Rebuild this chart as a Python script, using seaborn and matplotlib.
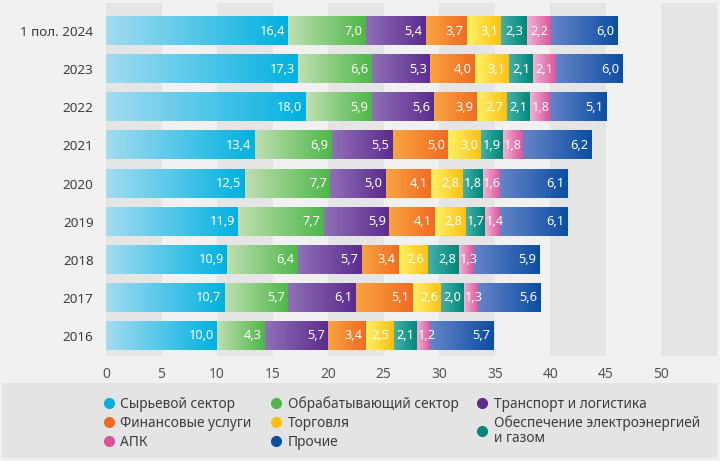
import numpy as np
import pandas as pd
import matplotlib
matplotlib.use("Agg")
import matplotlib.pyplot as plt
from matplotlib.colors import to_rgb
from matplotlib.lines import Line2D
from matplotlib.patches import Rectangle
import seaborn as sns

# ---------------- data ----------------
years = ["1 пол. 2024", "2023", "2022", "2021", "2020", "2019", "2018", "2017", "2016"]
sectors = ["Сырьевой сектор", "Обрабатывающий сектор", "Транспорт и логистика",
           "Финансовые услуги", "Торговля", "Обеспечение электроэнергией\nи газом",
           "АПК", "Прочие"]
raw = [16.4, 17.3, 18.0, 13.4, 12.5, 11.9, 10.9, 10.7, 10.0]
manuf = [7.0, 6.6, 5.9, 6.9, 7.7, 7.7, 6.4, 5.7, 4.3]
transport = [5.4, 5.3, 5.6, 5.5, 5.0, 5.9, 5.7, 6.1, 5.7]
finance = [3.7, 4.0, 3.9, 5.0, 4.1, 4.1, 3.4, 5.1, 3.4]
trade = [3.1, 3.1, 2.7, 3.0, 2.8, 2.8, 2.6, 2.6, 2.5]
energy = [2.3, 2.1, 2.1, 1.9, 1.8, 1.7, 2.8, 2.0, 2.1]
agro = [2.2, 2.1, 1.8, 1.8, 1.6, 1.4, 1.3, 1.3, 1.2]
other = [6.0, 6.0, 5.1, 6.2, 6.1, 6.1, 5.9, 5.6, 5.7]
series = [raw, manuf, transport, finance, trade, energy, agro, other]
xticks = [0, 5, 10, 15, 20, 25, 30, 35, 40, 45, 50]

# gradient colours (light -> dark) per sector
grad = [("#a3dcf1", "#00b1e0"), ("#bfdfb2", "#4eb748"), ("#8f70b7", "#5b2b8d"),
        ("#f9a441", "#f06b22"), ("#fff266", "#fdbf10"), ("#45b1a8", "#00867a"),
        ("#f2b3d3", "#d9539b"), ("#6584c8", "#0b4ea2")]

# ---------------- style ----------------
sns.set_theme(style="white")
plt.rcParams["font.family"] = ["Noto Sans", "DejaVu Sans"]
BG = "#f1f1f1"
BAND = "#e5e5e5"
TXT = "#3d3d3d"

fig = plt.figure(figsize=(7.2, 4.61), dpi=100, facecolor=BG)
ax = fig.add_axes([106 / 720, 1 - 356 / 461, (717 - 106) / 720, (356 - 3) / 461])
ax.set_facecolor(BG)

# legend background box
fig.patches.append(Rectangle((2 / 720, 1 - 458 / 461), 715 / 720, 75 / 461,
                             transform=fig.transFigure, facecolor="#e4e4e4",
                             edgecolor="none", zorder=0))

# vertical bands
for s in range(0, 55, 10):
    ax.axvspan(s, s + 5, color=BAND, zorder=0, lw=0)

cum = np.zeros(len(years))
starts, ends = [], []
for vals in series:
    starts.append(cum.copy())
    cum = cum + np.array(vals)
    ends.append(cum.copy())

# draw stacked bars (largest cumulative first so each covers the previous)
BAR_H = 0.74
for k in range(len(series) - 1, -1, -1):
    d = pd.DataFrame({"year": years, "val": ends[k]})
    sns.barplot(data=d, x="val", y="year", order=years, color=grad[k][1],
                width=BAR_H, ax=ax, saturation=1, edgecolor="none", zorder=2)

# gradient overlays, in data coordinates
for k in range(len(series)):
    c0 = np.array(to_rgb(grad[k][0]))
    c1 = np.array(to_rgb(grad[k][1]))
    t = np.linspace(0, 1, 128)[None, :, None]
    img = c0 + (c1 - c0) * t
    for i in range(len(years)):
        v = series[k][i]
        ax.imshow(img, extent=[starts[k][i], ends[k][i], i + BAR_H / 2, i - BAR_H / 2],
                  aspect="auto", interpolation="bilinear", zorder=3, origin="upper")
        lab = f"{v:.1f}".replace(".", ",")
        if v >= 2.6:
            xy, off, ha = (ends[k][i], i), (-2.5, 0), "right"
        elif v >= 1.6:
            xy, off, ha = ((starts[k][i] + ends[k][i]) / 2, i), (0, 0), "center"
        else:
            xy, off, ha = (starts[k][i], i), (0.5, 0), "left"
        ax.annotate(lab, xy=xy, xytext=off, textcoords="offset points",
                    ha=ha, va="center", color="white", fontsize=9.2,
                    fontweight="semibold", zorder=5)

ax.set_xlim(0, 55)
ax.set_ylim(8 + 0.525, -0.735)
ax.set_xticks(xticks)
ax.set_xticklabels([str(v) for v in xticks])
ax.set_xlabel("")
ax.set_ylabel("")
for sp in ax.spines.values():
    sp.set_visible(False)
ax.tick_params(axis="x", length=0, pad=8, labelsize=10, labelcolor="#555555")
ax.tick_params(axis="y", length=0, pad=9, labelsize=9.7, labelcolor=TXT)
ax.grid(False)

# legend (row-wise order as in reference -> reorder for column filling)
handles = [Line2D([0], [0], marker="o", ls="none", markersize=8,
                  markerfacecolor=g[1], markeredgecolor="none") for g in grad]
order = [0, 3, 6, 1, 4, 7, 2, 5]
leg = fig.legend([handles[j] for j in order], [sectors[j] for j in order],
                 loc="upper left", bbox_to_anchor=(104 / 720, 1 - 396 / 461),
                 ncol=3, frameon=False, fontsize=9.9, handlelength=0.7,
                 handletextpad=0.5, columnspacing=1.4, labelspacing=0.3,
                 borderpad=0, borderaxespad=0)
for t in leg.get_texts():
    t.set_color(TXT)
    t.set_linespacing(0.95)

fig.savefig("out.png", dpi=100, facecolor=BG)
